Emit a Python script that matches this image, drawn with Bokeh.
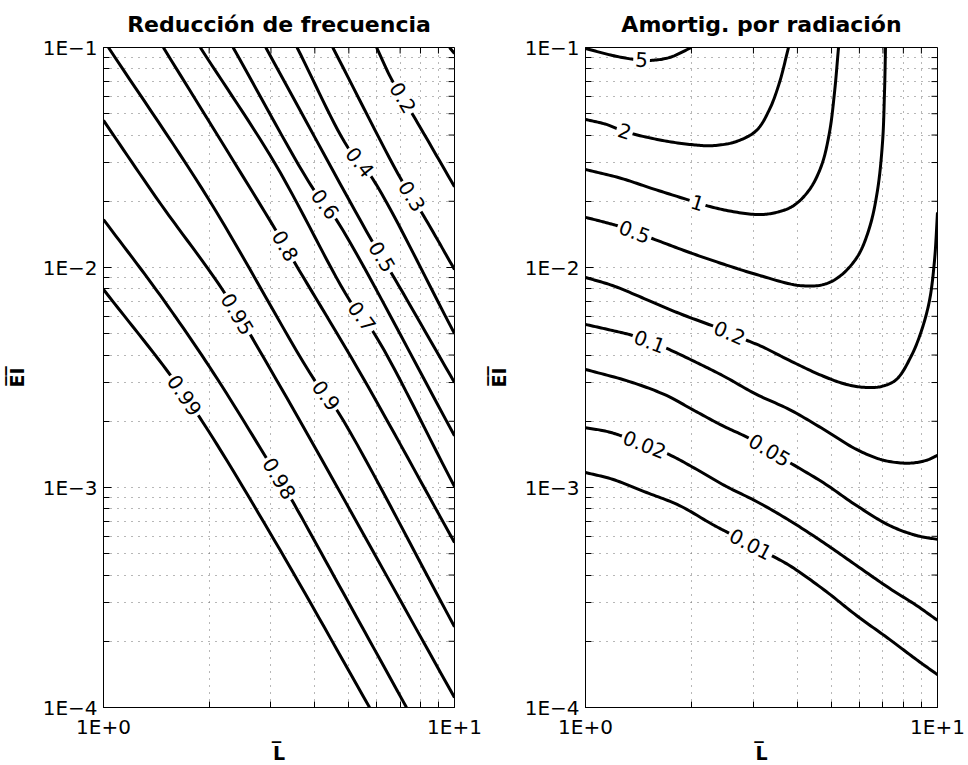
import math
import numpy as np
from bokeh.plotting import figure
from bokeh.layouts import row
from bokeh.models import Range1d, FixedTicker, CustomJSTickFormatter, Label
from bokeh.embed import file_html
from bokeh.resources import INLINE

FONT = "DejaVu Sans"

# ---------------------------------------------------------------------------
# Contour lines, as (L, EI) pairs along each level
# ---------------------------------------------------------------------------
# Reducción de frecuencia
red_levels = ["0.1", "0.2", "0.3", "0.4", "0.5", "0.6", "0.7", "0.8", "0.9", "0.95", "0.98", "0.99"]

red_010_L = [9.68, 10.0]
red_010_EI = [0.100, 0.0939]
red_020_L = [6.00, 6.62, 7.60, 10.0]
red_020_EI = [0.100, 0.0716, 0.0496, 0.0233]
red_030_L = [4.50, 7.07, 8.06, 10.0]
red_030_EI = [0.100, 0.0249, 0.0178, 0.0098]
red_040_L = [3.56, 4.97, 5.81, 10.0]
red_040_EI = [0.100, 0.0351, 0.0257, 0.00501]
red_050_L = [2.90, 5.81, 6.62, 10.0]
red_050_EI = [0.100, 0.01327, 0.0094, 0.0030]
red_060_L = [2.34, 3.95, 4.62, 10.0]
red_060_EI = [0.100, 0.0229, 0.01637, 0.00172]
red_070_L = [1.887, 3.08, 5.03, 5.93, 10.0]
red_070_EI = [0.100, 0.0297, 0.00708, 0.00496, 0.00101]
red_080_L = [1.481, 3.10, 3.53, 5.44, 10.0]
red_080_EI = [0.100, 0.01473, 0.01032, 0.00323, 0.000562]
red_090_L = [1.033, 1.987, 4.00, 4.65, 10.0]
red_090_EI = [0.100, 0.0206, 0.00306, 0.002215, 0.000233]
red_095_L = [1.0, 1.452, 2.19, 3.12, 10.0]
red_095_EI = [0.0466, 0.01954, 0.00786, 0.00306, 0.000111]
red_098_L = [1.0, 1.452, 2.054, 3.00, 3.355, 4.78, 7.30]
red_098_EI = [0.01652, 0.00746, 0.00333, 0.001259, 0.00094, 0.00034, 0.0001]
red_099_L = [1.0, 1.56, 1.987, 3.18, 5.73]
red_099_EI = [0.00794, 0.0032, 0.001815, 0.000522, 0.0001]

# L at which each level carries its inline label (None: unlabeled)
red_label_L = [None, 7.117, 7.55, 5.37, 6.204, 4.272, 5.44, 3.289, 4.30, 2.403, 3.162, 1.699]

# Amortiguamiento por radiación
amo_levels = ["5", "2", "1", "0.5", "0.2", "0.1", "0.05", "0.02", "0.01"]

amo_5_L = [1.0, 1.193, 1.378, 1.520, 1.733, 2.000]
amo_5_EI = [0.0990, 0.0920, 0.0882, 0.0873, 0.0901, 0.100]
amo_2_L = [1.0, 1.147, 1.291, 1.655, 2.000, 2.295, 2.685, 3.061, 3.332, 3.557, 3.773]
amo_2_EI = [0.0471, 0.0447, 0.0415, 0.0378, 0.0362, 0.0358, 0.0374, 0.0420, 0.0523, 0.0693, 0.100]
amo_1_L = [1.0, 1.266, 1.540, 1.936, 2.207, 2.598, 3.101, 3.488, 3.899, 4.329, 4.683, 4.933, 5.098, 5.234]
amo_1_EI = [0.0279, 0.0254, 0.0229, 0.0204, 0.0191, 0.0180, 0.0174, 0.0178, 0.0191, 0.0226, 0.0291, 0.0411, 0.0624, 0.100]
amo_05_L = [1.0, 1.110, 1.249, 1.520, 1.975, 2.434, 3.061, 4.055, 4.745, 5.267, 5.927, 6.411, 6.753, 6.979, 7.07, 7.117]
amo_05_EI = [0.0169, 0.0162, 0.01537, 0.01369, 0.01170, 0.01043, 0.00929, 0.00828, 0.00837, 0.00910, 0.01122, 0.0152, 0.0224, 0.0370, 0.0624, 0.100]
amo_02_L = [1.0, 1.193, 1.491, 1.849, 2.356, 2.830, 3.162, 3.798, 4.683, 5.514, 6.245, 6.933, 7.648, 8.436, 9.008, 9.490, 9.806, 10.0]
amo_02_EI = [0.00901, 0.00828, 0.00715, 0.00618, 0.00534, 0.00471, 0.00438, 0.00378, 0.00323, 0.00294, 0.00285, 0.00288, 0.00310, 0.00398, 0.00517, 0.00708, 0.01076, 0.0178]
amo_01_L = [1.0, 1.193, 1.360, 1.677, 2.067, 2.450, 3.061, 3.798, 4.745, 5.888, 7.025, 8.328, 9.307, 10.0]
amo_01_EI = [0.00551, 0.00517, 0.00491, 0.00433, 0.00370, 0.00323, 0.00265, 0.00226, 0.00184, 0.00149, 0.00133, 0.00129, 0.00133, 0.00140]
amo_005_L = [1.0, 1.334, 1.699, 2.014, 2.450, 2.924, 3.798, 4.745, 5.888, 7.306, 8.717, 10.0]
amo_005_EI = [0.00344, 0.00303, 0.00262, 0.00226, 0.00191, 0.00167, 0.00130, 0.00105, 0.000828, 0.000672, 0.000605, 0.000581]
amo_002_L = [1.0, 1.147, 1.274, 1.699, 2.067, 2.515, 3.061, 3.798, 4.745, 5.888, 7.306, 8.717, 10.0]
amo_002_EI = [0.00187, 0.00180, 0.00171, 0.00143, 0.00121, 0.00101, 0.000864, 0.000708, 0.000562, 0.000442, 0.000348, 0.000291, 0.000249]
amo_001_L = [1.0, 1.193, 1.491, 1.849, 2.295, 2.598, 3.332, 3.798, 4.745, 5.888, 7.306, 8.717, 10.0]
amo_001_EI = [0.00117, 0.00109, 0.000949, 0.000828, 0.000679, 0.000612, 0.000496, 0.000442, 0.000344, 0.000262, 0.000204, 0.000165, 0.000141]

amo_label_L = [1.443, 1.291, 2.081, 1.378, 2.565, 1.520, 3.332, 1.471, 2.943]

red_curves = [
    (red_010_L, red_010_EI), (red_020_L, red_020_EI), (red_030_L, red_030_EI),
    (red_040_L, red_040_EI), (red_050_L, red_050_EI), (red_060_L, red_060_EI),
    (red_070_L, red_070_EI), (red_080_L, red_080_EI), (red_090_L, red_090_EI),
    (red_095_L, red_095_EI), (red_098_L, red_098_EI), (red_099_L, red_099_EI),
]
amo_curves = [
    (amo_5_L, amo_5_EI), (amo_2_L, amo_2_EI), (amo_1_L, amo_1_EI),
    (amo_05_L, amo_05_EI), (amo_02_L, amo_02_EI), (amo_01_L, amo_01_EI),
    (amo_005_L, amo_005_EI), (amo_002_L, amo_002_EI), (amo_001_L, amo_001_EI),
]

# ---------------------------------------------------------------------------
# Axes: log L in [1, 10], log EI in [1e-4, 1e-1]
# ---------------------------------------------------------------------------
L_RANGE = (1.0, 10.0)
EI_RANGE = (1e-4, 1e-1)
FRAME_H = 660
MAJOR_TICK = 8
MINOR_TICK = 6


def decade_ticks(lo_exp, hi_exp):
    major = [10.0 ** e for e in range(lo_exp, hi_exp + 1)]
    minor = [k * 10.0 ** e for e in range(lo_exp, hi_exp) for k in range(2, 10)]
    return major, minor


X_MAJOR, X_MINOR = decade_ticks(0, 1)
Y_MAJOR, Y_MINOR = decade_ticks(-4, -1)

FMT_CODE = """
const e = Math.round(Math.log10(tick));
return "1E" + (e < 0 ? "\u2212" : "+") + Math.abs(e);
"""


def style_axis(ax, ticker, standoff):
    ax.ticker = ticker
    ax.formatter = CustomJSTickFormatter(code=FMT_CODE)
    ax.axis_line_color = "black"
    ax.major_tick_line_color = "black"
    ax.minor_tick_line_color = "black"
    ax.major_tick_in = MAJOR_TICK
    ax.major_tick_out = 0
    ax.minor_tick_in = MINOR_TICK
    ax.minor_tick_out = 0
    ax.major_label_text_font = FONT
    ax.major_label_text_font_size = "20px"
    ax.major_label_text_color = "black"
    ax.major_label_standoff = standoff
    ax.axis_label_text_font = FONT
    ax.axis_label_text_font_size = "19px"
    ax.axis_label_text_font_style = "bold"
    ax.axis_label_text_color = "black"


def screen_scales(frame_w):
    px_x = frame_w / math.log10(L_RANGE[1] / L_RANGE[0])
    px_y = FRAME_H / math.log10(EI_RANGE[1] / EI_RANGE[0])
    return px_x, px_y


def box_ticks(p, frame_w):
    """Inward ticks along the top and right edges of the box."""
    px_x, px_y = screen_scales(frame_w)
    x0, x1, y0, y1 = [], [], [], []
    top = EI_RANGE[1]
    for ticks, n in ((X_MAJOR, MAJOR_TICK), (X_MINOR, MINOR_TICK)):
        for t in ticks:
            x0.append(t); x1.append(t)
            y0.append(top); y1.append(top * 10 ** (-n / px_y))
    right = L_RANGE[1]
    for ticks, n in ((Y_MAJOR, MAJOR_TICK), (Y_MINOR, MINOR_TICK)):
        for t in ticks:
            x0.append(right); x1.append(right * 10 ** (-n / px_x))
            y0.append(t); y1.append(t)
    p.segment(x0, y0, x1, y1, line_color="black", line_width=1)


def smooth_path(L, EI, frame_w, n=14):
    """Centripetal Catmull-Rom through the read points, in screen-proportional log space."""
    if len(L) < 3:
        return list(L), list(EI)
    sx, sy = screen_scales(frame_w)
    P = np.column_stack([np.log10(L) * sx, np.log10(EI) * sy])
    ext = np.vstack([2 * P[0] - P[1], P, 2 * P[-1] - P[-2]])
    out = []
    for i in range(1, len(ext) - 2):
        p0, p1, p2, p3 = ext[i - 1], ext[i], ext[i + 1], ext[i + 2]
        t0 = 0.0
        t1 = t0 + max(np.linalg.norm(p1 - p0), 1e-6) ** 0.5
        t2 = t1 + max(np.linalg.norm(p2 - p1), 1e-6) ** 0.5
        t3 = t2 + max(np.linalg.norm(p3 - p2), 1e-6) ** 0.5
        for t in np.linspace(t1, t2, n, endpoint=False):
            a1 = (t1 - t) / (t1 - t0) * p0 + (t - t0) / (t1 - t0) * p1
            a2 = (t2 - t) / (t2 - t1) * p1 + (t - t1) / (t2 - t1) * p2
            a3 = (t3 - t) / (t3 - t2) * p2 + (t - t2) / (t3 - t2) * p3
            b1 = (t2 - t) / (t2 - t0) * a1 + (t - t0) / (t2 - t0) * a2
            b2 = (t3 - t) / (t3 - t1) * a2 + (t - t1) / (t3 - t1) * a3
            out.append((t2 - t) / (t2 - t1) * b1 + (t - t1) / (t2 - t1) * b2)
    out.append(P[-1])
    out = np.array(out)
    return list(10 ** (out[:, 0] / sx)), list(10 ** (out[:, 1] / sy))


def label_geometry(L, EI, lx, frame_w):
    lgL = np.log10(L)
    lgE = np.log10(EI)
    t = math.log10(lx)
    ly = float(np.interp(t, lgL, lgE))
    d = 0.025
    y1 = np.interp(t - d, lgL, lgE)
    y2 = np.interp(t + d, lgL, lgE)
    px_x, px_y = screen_scales(frame_w)
    ang = math.atan2((y2 - y1) * px_y, 2 * d * px_x)
    return 10 ** ly, ang


def make_panel(title, levels, curves, label_L, frame_w, b_left, b_right):
    p = figure(
        title=title,
        x_axis_type="log", y_axis_type="log",
        x_range=Range1d(*L_RANGE), y_range=Range1d(*EI_RANGE),
        frame_width=frame_w, frame_height=FRAME_H,
        min_border_left=b_left, min_border_right=b_right,
        min_border_top=47, min_border_bottom=58,
        output_backend="svg", toolbar_location=None,
        background_fill_color="white", border_fill_color="white",
    )
    p.outline_line_color = "black"
    p.outline_line_width = 1

    xt = FixedTicker(ticks=X_MAJOR, minor_ticks=X_MINOR)
    yt = FixedTicker(ticks=Y_MAJOR, minor_ticks=Y_MINOR)

    bottom = p.below[0]
    left = p.left[0]
    style_axis(bottom, xt, 7)
    style_axis(left, yt, 6)
    bottom.axis_label = "L\u0305"
    bottom.axis_label_standoff = 0
    left.axis_label = "E\u0305I\u0305"
    left.axis_label_standoff = 12

    for g, t in ((p.xgrid, xt), (p.ygrid, yt)):
        g.ticker = t
        g.grid_line_color = "#6f6f6f"
        g.grid_line_dash = "1 6"
        g.minor_grid_line_color = "#6f6f6f"
        g.minor_grid_line_dash = "1 6"

    p.title.align = "center"
    p.title.vertical_align = "top"
    p.title.text_font = FONT
    p.title.text_font_size = "22px"
    p.title.text_font_style = "bold"
    p.title.text_color = "black"
    p.title.standoff = 18

    box_ticks(p, frame_w)

    for (L, EI) in curves:
        sL, sE = smooth_path(L, EI, frame_w)
        p.line(sL, sE, line_color="black", line_width=3, line_join="round")

    for lev, (L, EI), lx in zip(levels, curves, label_L):
        if lx is None:
            continue
        ly, ang = label_geometry(L, EI, lx, frame_w)
        p.add_layout(Label(
            x=lx, y=ly, text=lev, angle=ang,
            text_align="center", text_baseline="middle",
            text_font=FONT, text_font_size="20px", text_color="black",
            background_fill_color="white", padding=2,
        ))
    return p


p1 = make_panel("Reducción de frecuencia", red_levels, red_curves, red_label_L, 351, 103, 30)
p2 = make_panel("Amortig. por radiación", amo_levels, amo_curves, amo_label_L, 352, 100, 32)

page = row(p1, p2)
open("out.html", "w").write(file_html(page, INLINE))
